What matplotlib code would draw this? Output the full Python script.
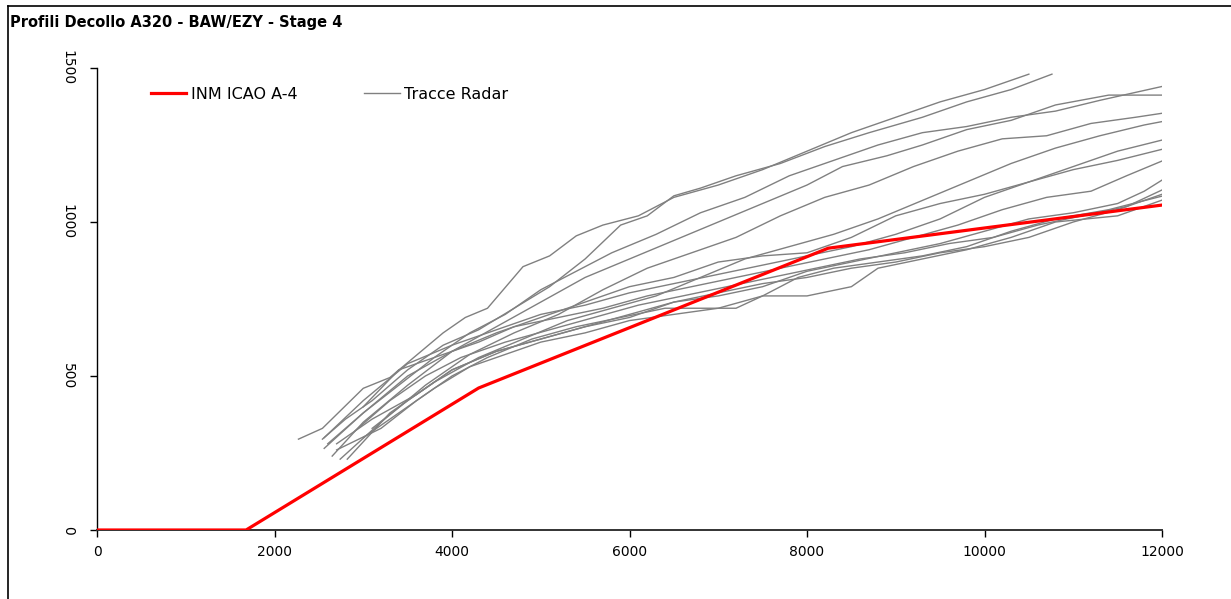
import matplotlib
matplotlib.use("Agg")
import matplotlib.pyplot as plt
from matplotlib.lines import Line2D

# INM reference profile (distance m, height ft)
inm_x = [0, 1680, 4300, 8240, 12000]
inm_y = [0, 0, 461, 915, 1055]

# radar tracks: (distance, height) pairs
tracks = [
    [(2270, 295), (2540, 330), (3000, 460), (3300, 495), (3900, 640), (4150, 690),
     (4400, 720), (4800, 855), (5100, 890), (5400, 955), (5700, 990), (6100, 1020),
     (6500, 1080), (7000, 1120), (7500, 1170), (8000, 1230), (8500, 1290),
     (9000, 1340), (9500, 1390), (10000, 1430), (10500, 1480)],
    [(2540, 295), (2800, 360), (3100, 420), (3500, 520), (3900, 600), (4300, 650),
     (4700, 720), (5100, 790), (5500, 880), (5900, 990), (6200, 1020), (6500, 1085),
     (6800, 1110), (7200, 1150), (7700, 1190), (8200, 1245), (8700, 1290),
     (9300, 1340), (9800, 1390), (10300, 1430), (10760, 1480)],
    [(2560, 265), (3000, 380), (3400, 470), (3800, 560), (4200, 640), (4600, 700),
     (5000, 780), (5400, 840), (5800, 900), (6300, 960), (6800, 1030), (7300, 1080),
     (7800, 1150), (8300, 1200), (8800, 1250), (9300, 1290), (9800, 1310),
     (10300, 1340), (10800, 1360), (11300, 1395), (12000, 1440)],
    [(2650, 240), (3000, 350), (3500, 470), (4000, 580), (4500, 660), (5000, 740),
     (5500, 820), (6000, 880), (6500, 940), (7000, 1000), (7500, 1060), (8000, 1120),
     (8400, 1180), (8900, 1215), (9300, 1250), (9800, 1300), (10300, 1330),
     (10800, 1380), (11400, 1412), (12000, 1412)],
    [(2740, 230), (3200, 350), (3700, 470), (4200, 570), (4700, 640), (5200, 700),
     (5700, 780), (6200, 850), (6700, 900), (7200, 950), (7700, 1020), (8200, 1080),
     (8700, 1120), (9200, 1180), (9700, 1230), (10200, 1270), (10700, 1280),
     (11200, 1320), (11700, 1340), (12000, 1353)],
    [(2820, 230), (3300, 380), (3800, 480), (4300, 560), (4800, 620), (5300, 680),
     (5800, 720), (6300, 760), (6800, 820), (7300, 880), (7800, 920), (8300, 960),
     (8800, 1010), (9300, 1070), (9800, 1130), (10300, 1190), (10800, 1240),
     (11300, 1280), (11800, 1315), (12000, 1326)],
    [(2600, 280), (3000, 380), (3500, 500), (4000, 580), (4500, 640), (5000, 690),
     (5500, 740), (6000, 790), (6500, 820), (7000, 870), (7500, 890), (8000, 900),
     (8500, 950), (9000, 1020), (9500, 1060), (10000, 1090), (10500, 1130),
     (11000, 1180), (11500, 1230), (12000, 1266)],
    [(2560, 300), (3000, 420), (3500, 540), (4000, 600), (4500, 650), (5000, 700),
     (5500, 730), (6000, 770), (6500, 800), (7000, 830), (7500, 860), (8000, 890),
     (8500, 920), (9000, 960), (9500, 1010), (10000, 1080), (10500, 1130),
     (11000, 1170), (11500, 1200), (12000, 1236)],
    [(3000, 400), (3400, 520), (3800, 560), (4300, 610), (4700, 660), (5200, 690),
     (5700, 720), (6200, 760), (6700, 790), (7200, 820), (7700, 850), (8200, 880),
     (8700, 910), (9200, 950), (9700, 990), (10200, 1040), (10700, 1080),
     (11200, 1100), (11600, 1150), (12000, 1198)],
    [(2700, 280), (3100, 360), (3600, 440), (4000, 520), (4500, 580), (5000, 620),
     (5500, 660), (6000, 700), (6500, 740), (7000, 760), (7500, 790), (8000, 840),
     (8500, 870), (9000, 900), (9500, 930), (10000, 970), (10500, 1010),
     (11000, 1030), (11500, 1060), (11800, 1100), (12000, 1136)],
    [(2900, 320), (3300, 420), (3700, 500), (4100, 560), (4600, 610), (5100, 650),
     (5600, 690), (6100, 730), (6600, 760), (7100, 790), (7600, 820), (8100, 850),
     (8600, 880), (9100, 900), (9600, 930), (10100, 950), (10600, 990),
     (11100, 1020), (11600, 1050), (12000, 1104)],
    [(2700, 260), (3200, 330), (3600, 420), (4000, 500), (4400, 560), (4900, 620),
     (5400, 660), (5900, 690), (6400, 720), (6900, 720), (7200, 720), (7500, 760),
     (7900, 820), (8300, 850), (8800, 870), (9300, 890), (9800, 920), (10300, 970),
     (10800, 1010), (11400, 1040), (12000, 1084)],
    [(3000, 300), (3400, 380), (3800, 460), (4200, 530), (4600, 570), (5000, 610),
     (5500, 640), (6000, 680), (6500, 700), (7000, 720), (7500, 760), (8000, 760),
     (8500, 790), (8800, 850), (9300, 880), (9800, 910), (10300, 950),
     (10800, 1000), (11500, 1020), (12000, 1071)],
    [(3100, 330), (3500, 420), (4000, 520), (4500, 580), (5000, 620), (5500, 660),
     (6000, 690), (6500, 740), (7000, 770), (7500, 800), (8000, 820), (8500, 850),
     (9000, 870), (9500, 900), (10000, 920), (10500, 950), (11000, 1000),
     (11500, 1040), (12000, 1090)],
]

x_ticks = [0, 2000, 4000, 6000, 8000, 10000, 12000]
y_ticks = [0, 500, 1000, 1500]

GREY = "#808080"
RED = "#ff0000"

fig = plt.figure(figsize=(12.31, 5.99), dpi=100)
ax = fig.add_axes([97 / 1231, 1 - 530 / 599, 1065 / 1231, 462 / 599])

for i, tr in enumerate(tracks):
    xs = [p[0] for p in tr]
    ys = [p[1] for p in tr]
    ax.plot(xs, ys, color=GREY, lw=1.0, zorder=2,
            label="Tracce Radar" if i == 0 else None)

ax.plot(inm_x, inm_y, color=RED, lw=2.3, zorder=3, label="INM ICAO A-4")

ax.set_xlim(0, 12000)
ax.set_ylim(0, 1500)
ax.set_xticks(x_ticks)
ax.set_yticks(y_ticks)
ax.set_yticklabels([str(v) for v in y_ticks], rotation=-90, va="center")
ax.tick_params(axis="both", direction="out", length=5, width=1,
               labelsize=10, colors="black")
ax.tick_params(axis="x", pad=6)
ax.tick_params(axis="y", pad=11)
for s in ("top", "right"):
    ax.spines[s].set_visible(False)
ax.spines["left"].set_linewidth(1.0)
ax.spines["bottom"].set_linewidth(1.4)
ax.spines["bottom"].set_color("#333333")

handles, labels = ax.get_legend_handles_labels()
order = [labels.index("INM ICAO A-4"), labels.index("Tracce Radar")]
ax.legend([handles[k] for k in order], [labels[k] for k in order],
          loc="upper left", bbox_to_anchor=(0.037, 0.99), ncol=2,
          frameon=False, fontsize=11.5, handlelength=2.2, handletextpad=0.3,
          columnspacing=4.2)

fig.text(10 / 1231, 1 - 22 / 599, "Profili Decollo A320 - BAW/EZY - Stage 4",
         fontsize=10.5, fontweight="bold", ha="left", va="center")

# outer frame (runs off the right and bottom of the picture)
fig.add_artist(Line2D([8 / 1231, 8 / 1231], [0, 1 - 6 / 599],
                      transform=fig.transFigure, color="black", lw=1.2))
fig.add_artist(Line2D([8 / 1231, 1], [1 - 6 / 599, 1 - 6 / 599],
                      transform=fig.transFigure, color="black", lw=1.2))

fig.savefig("out.png", dpi=100, facecolor="white")
